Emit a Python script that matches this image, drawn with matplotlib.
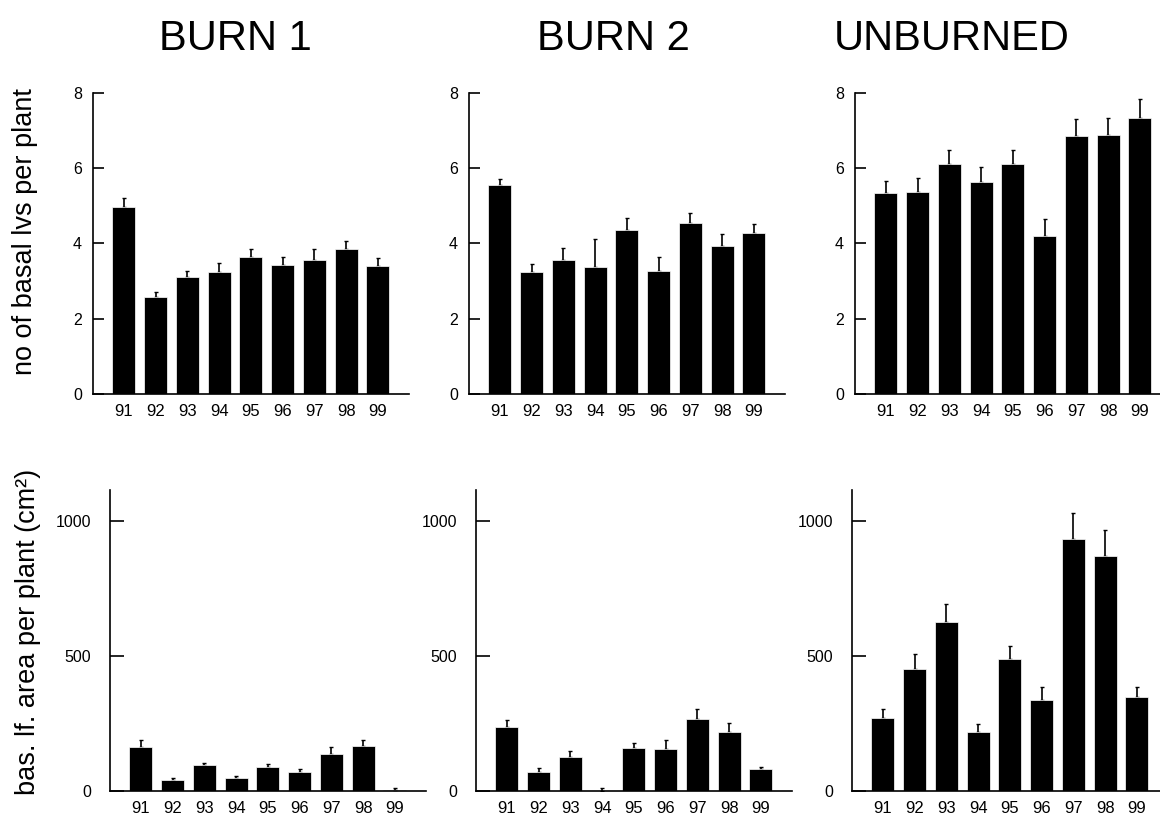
import numpy as np
import matplotlib
matplotlib.use('Agg')
import matplotlib.pyplot as plt

plt.rcParams['font.family'] = ['Liberation Sans', 'DejaVu Sans']

years = ['91', '92', '93', '94', '95', '96', '97', '98', '99']
sites = ['BURN 1', 'BURN 2', 'UNBURNED']

# number of basal leaves per plant (mean, upper error)
lvs_burn1 = [4.96, 2.58, 3.10, 3.24, 3.64, 3.44, 3.57, 3.85, 3.41]
lvs_burn1_err = [0.25, 0.13, 0.17, 0.24, 0.21, 0.21, 0.28, 0.22, 0.20]
lvs_burn2 = [5.56, 3.24, 3.57, 3.37, 4.36, 3.28, 4.55, 3.94, 4.29]
lvs_burn2_err = [0.16, 0.21, 0.32, 0.76, 0.32, 0.37, 0.27, 0.31, 0.22]
lvs_unburned = [5.34, 5.37, 6.12, 5.63, 6.12, 4.21, 6.86, 6.88, 7.33]
lvs_unburned_err = [0.33, 0.36, 0.37, 0.39, 0.36, 0.43, 0.45, 0.46, 0.52]

# basal leaf area per plant (cm2)
area_burn1 = [164, 41, 97, 50, 90, 69, 137, 165, 2]
area_burn1_err = [25, 6, 8, 6, 11, 14, 27, 24, 8]
area_burn2 = [238, 72, 125, 0, 159, 156, 268, 218, 80]
area_burn2_err = [25, 12, 23, 10, 20, 34, 34, 33, 10]
area_unburned = [270, 452, 627, 218, 490, 338, 932, 870, 347]
area_unburned_err = [33, 56, 67, 31, 48, 47, 99, 97, 38]

W, H = 1160, 816
fig = plt.figure(figsize=(W / 100, H / 100), dpi=100)

top_left = [93, 469, 855]
bot_left = [110, 476, 852]
ax_w = 316
ax_h = 301

top_data = [(lvs_burn1, lvs_burn1_err), (lvs_burn2, lvs_burn2_err),
            (lvs_unburned, lvs_unburned_err)]
bot_data = [(area_burn1, area_burn1_err), (area_burn2, area_burn2_err),
            (area_unburned, area_unburned_err)]

x = np.arange(len(years))


def draw(ax, vals, errs, ylim, yticks, ticklen, ypad):
    ax.bar(x, vals, width=0.72, color='black', edgecolor='white', linewidth=0.5, zorder=2)
    ax.errorbar(x, vals, yerr=[np.zeros(len(vals)), errs], fmt='none',
                ecolor='black', elinewidth=1.2, capsize=1.5, capthick=1.0, zorder=1)
    ax.set_xlim(-0.97, 8.98)
    ax.set_ylim(*ylim)
    ax.set_yticks(yticks)
    ax.set_xticks(x)
    ax.set_xticklabels(years, fontsize=12)
    ax.spines['top'].set_visible(False)
    ax.spines['right'].set_visible(False)
    ax.spines['left'].set_linewidth(1.2)
    ax.spines['bottom'].set_linewidth(1.2)
    ax.tick_params(axis='x', length=0, pad=7)
    ax.tick_params(axis='y', direction='in', length=ticklen, width=1.2,
                   labelsize=11.5, pad=ypad)


for i in range(3):
    ax = fig.add_axes([top_left[i] / W, (H - 394) / H, ax_w / W, ax_h / H])
    draw(ax, top_data[i][0], top_data[i][1], (0, 8), [0, 2, 4, 6, 8], 8, 8)

for i in range(3):
    ax = fig.add_axes([bot_left[i] / W, (H - 791) / H, ax_w / W, ax_h / H])
    draw(ax, bot_data[i][0], bot_data[i][1], (0, 1115), [0, 500, 1000], 10, 13.5)

title_x = [235, 613, 952]
for i in range(3):
    fig.text(title_x[i] / W, 1 - 39 / H, sites[i], fontsize=30,
             ha='center', va='center')

fig.text(25 / W, 1 - 232 / H, 'no of basal lvs per plant', fontsize=19.5,
         rotation=90, ha='center', va='center')
fig.text(28 / W, 1 - 632 / H, 'bas. lf. area per plant (cm²)', fontsize=19.5,
         rotation=90, ha='center', va='center')

fig.savefig('out.png', dpi=100)
